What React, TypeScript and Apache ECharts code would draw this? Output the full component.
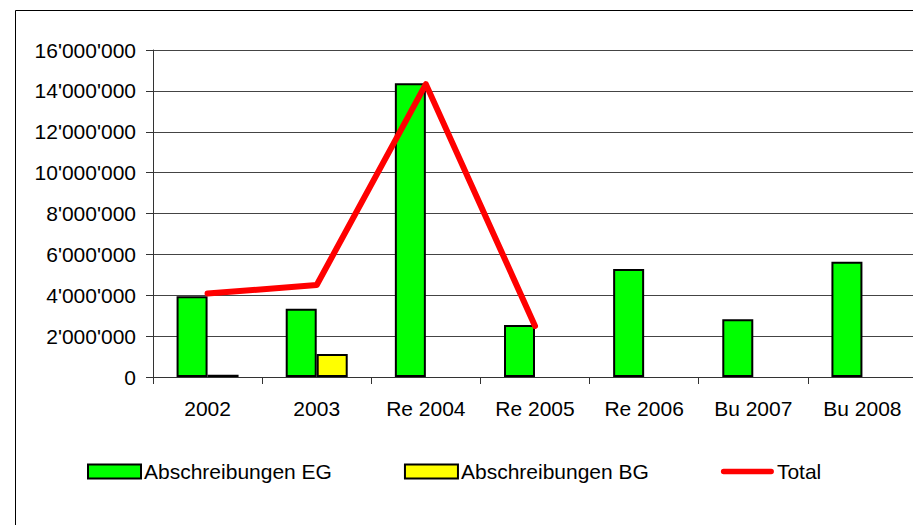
import React, { useEffect, useRef } from "react";
import * as echarts from "echarts";

const categories = ["2002", "2003", "Re 2004", "Re 2005", "Re 2006", "Bu 2007", "Bu 2008"];
const abschreibungenEG = [3950000, 3340000, 14370000, 2540000, 5280000, 2830000, 5640000];
const abschreibungenBG = [110000, 1120000, null, null, null, null, null];
const total = [4080000, 4500000, 14330000, 2500000, null, null, null];
const yTicks = { min: 0, max: 16000000, interval: 2000000 };

const FONT = "'Liberation Sans', Arial, sans-serif";

function fmt(v: number): string {
  return String(Math.round(v)).replace(/\B(?=(\d{3})+(?!\d))/g, "'");
}

export default function App() {
  const ref = useRef<HTMLDivElement>(null);
  useEffect(() => {
    if (!ref.current) return;
    const chart = echarts.init(ref.current, null, { renderer: "svg" });
    chart.setOption({
      animation: false,
      backgroundColor: "#ffffff",
      textStyle: { fontFamily: FONT },
      graphic: [
        {
          type: "rect",
          shape: { x: 15.5, y: 10.5, width: 1000, height: 700 },
          style: { fill: "none", stroke: "#000", lineWidth: 1 },
          silent: true,
          z: -10,
        },
      ],
      grid: {
        left: 153,
        top: 50,
        right: -4,
        bottom: 148,
        outerBoundsMode: "none",
        show: false,
      },
      legend: {
        left: 82,
        top: 456,
        itemGap: 72,
        itemWidth: 53,
        itemHeight: 14,
        symbolKeepAspect: true,
        textStyle: { fontFamily: FONT, fontSize: 21, color: "#000", padding: [0, 0, 0, -2] },
        data: [
          { name: "Abschreibungen EG", icon: "rect" },
          { name: "Abschreibungen BG", icon: "rect" },
          {
            name: "Total",
            icon: "path://M3,0 H56 A3,3 0 0 1 56,6 H3 A3,3 0 0 1 3,0 Z",
            itemStyle: { color: "#ff0000", borderWidth: 0 },
          },
        ],
      },
      xAxis: {
        type: "category",
        data: categories,
        axisLine: { lineStyle: { color: "#333", width: 1 } },
        axisTick: { show: true, length: 7, lineStyle: { color: "#333" } },
        axisLabel: { fontFamily: FONT, fontSize: 21, color: "#000", margin: 21 },
        splitLine: { show: false },
      },
      yAxis: {
        type: "value",
        min: yTicks.min,
        max: yTicks.max,
        interval: yTicks.interval,
        axisLine: { show: true, lineStyle: { color: "#333", width: 1 } },
        axisTick: { show: true, length: 7, lineStyle: { color: "#333" } },
        axisLabel: {
          fontFamily: FONT,
          fontSize: 21,
          color: "#000",
          margin: 17,
          formatter: (v: number) => fmt(v),
        },
        splitLine: { show: true, lineStyle: { color: "#444", width: 1 } },
      },
      series: [
        {
          name: "Abschreibungen EG",
          type: "bar",
          data: abschreibungenEG,
          barWidth: 31,
          barGap: "0%",
          itemStyle: { color: "#00ff00", borderColor: "#000", borderWidth: 2 },
        },
        {
          name: "Abschreibungen BG",
          type: "bar",
          data: abschreibungenBG,
          barWidth: 31,
          barGap: "0%",
          itemStyle: { color: "#ffff00", borderColor: "#000", borderWidth: 2 },
        },
        {
          name: "Total",
          type: "line",
          data: total,
          showSymbol: false,
          symbol: "none",
          connectNulls: false,
          itemStyle: { color: "#ff0000" },
          lineStyle: { color: "#ff0000", width: 6, cap: "round", join: "round" },
          z: 5,
        },
      ],
    });
    return () => chart.dispose();
  }, []);
  return (
    <div
      ref={ref}
      style={{ position: "absolute", left: 0, top: 0, width: 913, height: 525 }}
    />
  );
}
